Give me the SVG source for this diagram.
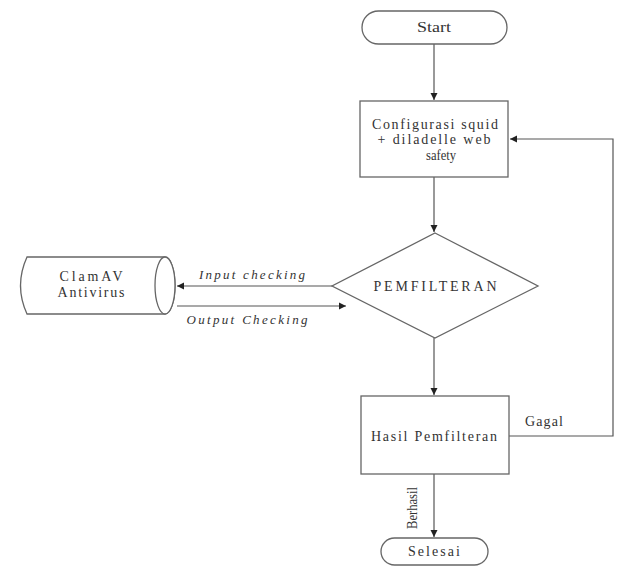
<svg xmlns="http://www.w3.org/2000/svg" width="617" height="566" viewBox="0 0 617 566">
<style>
.s{fill:#fff;stroke:#666;stroke-width:1.3}
.t{font-family:"Liberation Serif","Times New Roman",serif;font-size:14px;fill:#333;text-anchor:middle}
.i{font-style:italic;font-size:13px}
.c{fill:none;stroke:#555;stroke-width:1.2}
</style>
<defs>
<marker id="a" markerWidth="8" markerHeight="8" refX="7" refY="4" orient="auto" markerUnits="userSpaceOnUse">
<path d="M0,0.5 L7,4 L0,7.5 Z" fill="#222"/>
</marker>
</defs>
<rect width="617" height="566" fill="#fff"/>
<g id="connectors">
<line class="c" x1="434" y1="44" x2="434" y2="100" marker-end="url(#a)"/>
<line class="c" x1="434" y1="177" x2="434" y2="232" marker-end="url(#a)"/>
<line class="c" x1="332" y1="286" x2="177" y2="286" marker-end="url(#a)"/>
<line class="c" x1="177" y1="306" x2="346" y2="306" marker-end="url(#a)"/>
<line class="c" x1="434" y1="338" x2="434" y2="395" marker-end="url(#a)"/>
<polyline class="c" points="509,436 613,436 613,139 510,139" marker-end="url(#a)"/>
<line class="c" x1="434" y1="474" x2="434" y2="537" marker-end="url(#a)"/>
<text class="t i" x="252" y="279" textLength="106" lengthAdjust="spacing">Input checking</text>
<text class="t i" x="247" y="324" textLength="121" lengthAdjust="spacing">Output Checking</text>
<text class="t" x="544" y="426" textLength="38" lengthAdjust="spacing">Gagal</text>
<text class="t" transform="translate(417,508) rotate(-90)" textLength="42" lengthAdjust="spacingAndGlyphs">Berhasil</text>
</g>
<g id="start">
<rect class="s" x="362" y="11" width="145" height="33" rx="16.5"/>
<text class="t" x="434" y="32" textLength="34" lengthAdjust="spacingAndGlyphs">Start</text>
</g>
<g id="config">
<rect class="s" x="360" y="101" width="148" height="76"/>
<text class="t" x="435" y="129" textLength="126" lengthAdjust="spacing">Configurasi squid</text>
<text class="t" x="434" y="144" textLength="113" lengthAdjust="spacing">+ diladelle web</text>
<text class="t" x="441" y="160" textLength="30" lengthAdjust="spacingAndGlyphs">safety</text>
</g>
<g id="pemfilteran">
<polygon class="s" points="435,233 538,286 435,338 332,286"/>
<text class="t" x="435" y="291" textLength="123" lengthAdjust="spacing">PEMFILTERAN</text>
</g>
<g id="clamav">
<path class="s" d="M27,257 L165,257 A10,28.5 0 0 1 165,314 L27,314 Q14,285.5 27,257 Z"/>
<ellipse class="s" cx="165" cy="285.5" rx="10" ry="28.5"/>
<text class="t" x="91" y="281" textLength="63" lengthAdjust="spacing">ClamAV</text>
<text class="t" x="91" y="297" textLength="67" lengthAdjust="spacing">Antivirus</text>
</g>
<g id="hasil">
<rect class="s" x="361" y="396" width="148" height="78"/>
<text class="t" x="434" y="441" textLength="126" lengthAdjust="spacing">Hasil Pemfilteran</text>
</g>
<g id="selesai">
<rect class="s" x="381" y="538" width="107" height="27" rx="13.5"/>
<text class="t" x="434" y="556" textLength="52" lengthAdjust="spacing">Selesai</text>
</g>
</svg>
